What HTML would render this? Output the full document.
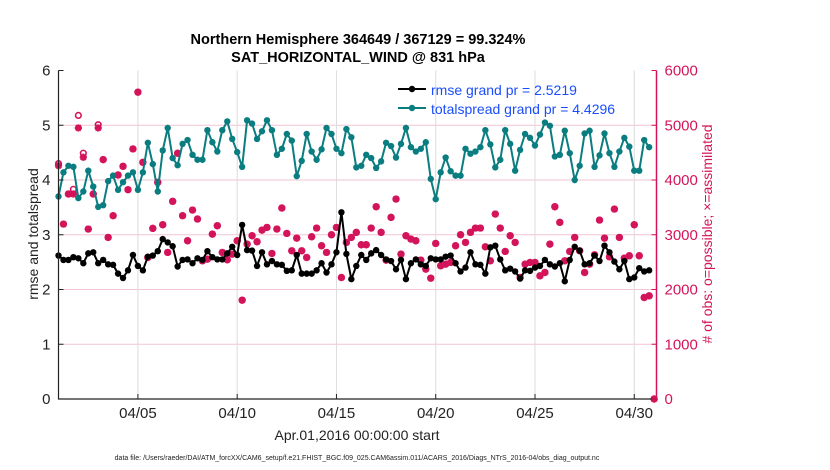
<!DOCTYPE html>
<html><head><meta charset="utf-8"><style>
body{margin:0;background:#fff;}
svg{font-family:"Liberation Sans",sans-serif;display:block}
</style></head><body>
<svg id="c" width="830" height="470" viewBox="0 0 830 470" xmlns="http://www.w3.org/2000/svg">
<text x="358" y="44" text-anchor="middle" font-size="14.5" font-weight="bold">Northern Hemisphere 364649 / 367129 = 99.324%</text>
<text x="358" y="62" text-anchor="middle" font-size="14.5" font-weight="bold">SAT_HORIZONTAL_WIND @ 831 hPa</text>
<g id="grid"></g>
<g id="series"></g>
<g id="axes"></g>
<g>
<line x1="398" y1="89" x2="426" y2="89" stroke="#000" stroke-width="2"/><circle cx="412" cy="89" r="3.2" fill="#000"/>
<text x="431" y="95" font-size="14" fill="#1a4dff">rmse grand pr = 2.5219</text>
<line x1="398" y1="108" x2="426" y2="108" stroke="#0a7d80" stroke-width="2"/><circle cx="412" cy="108" r="3.2" fill="#0a7d80"/>
<text x="431" y="114" font-size="14" fill="#1a4dff">totalspread grand pr = 4.4296</text>
</g>
<text transform="translate(38,234) rotate(-90)" text-anchor="middle" font-size="14" fill="#222">rmse and totalspread</text>
<text transform="translate(712,234) rotate(-90)" text-anchor="middle" font-size="14" fill="#d4145a"># of obs: o=possible; ×=assimilated</text>
<text x="357" y="440" text-anchor="middle" font-size="14" fill="#222">Apr.01,2016 00:00:00 start</text>
<text x="357" y="460" text-anchor="middle" font-size="7" fill="#222">data file: /Users/raeder/DAI/ATM_forcXX/CAM6_setup/f.e21.FHIST_BGC.f09_025.CAM6assim.011/ACARS_2016/Diags_NTrS_2016-04/obs_diag_output.nc</text>
</svg>
<script>
const rmse=[2.62,2.54,2.54,2.59,2.57,2.48,2.66,2.68,2.48,2.54,2.46,2.45,2.29,2.21,2.35,2.63,2.43,2.35,2.60,2.62,2.70,2.92,2.86,2.79,2.42,2.54,2.55,2.48,2.57,2.54,2.70,2.59,2.55,2.55,2.66,2.78,2.63,3.18,2.72,2.71,2.43,2.68,
2.46,2.52,2.46,2.45,2.34,2.35,2.63,2.29,2.29,2.29,2.35,2.48,2.31,2.46,2.68,3.41,2.65,2.19,2.43,2.63,2.54,2.66,2.72,2.63,2.55,2.52,2.37,2.54,2.19,2.48,2.55,2.46,2.43,2.57,2.55,2.55,2.60,2.62,2.48,
2.33,2.40,2.68,2.46,2.45,2.29,2.77,2.80,2.55,2.35,2.38,2.33,2.20,2.35,2.34,2.40,2.43,2.54,2.46,2.42,2.48,2.15,2.54,2.78,2.71,2.46,2.48,2.62,2.52,2.80,2.68,2.51,2.37,2.52,2.19,2.22,2.39,2.33,2.35];
const spread=[3.70,4.14,4.26,4.24,3.67,3.79,4.17,3.88,3.51,3.54,3.98,4.08,3.82,3.96,4.08,4.14,3.82,4.14,4.68,4.29,3.79,4.54,4.95,4.40,4.27,4.66,4.73,4.46,4.37,4.37,4.91,4.69,4.52,4.91,5.07,4.75,4.51,4.24,5.09,5.03,4.75,4.89,
5.09,4.91,4.46,4.57,4.84,4.72,4.07,4.35,4.84,4.52,4.37,4.56,4.95,4.84,4.57,4.49,4.93,4.78,4.23,4.26,4.46,4.40,4.22,4.34,4.68,4.62,4.41,4.66,4.95,4.60,4.52,4.57,4.69,4.02,3.65,4.14,4.41,4.16,4.08,
4.08,4.57,4.48,4.52,4.60,4.91,4.65,4.23,4.37,4.91,4.66,4.17,4.55,4.84,4.77,4.63,4.83,5.05,4.99,4.43,4.46,4.90,4.49,4.00,4.26,4.85,4.90,4.24,4.45,4.85,4.49,4.24,4.52,4.77,4.61,4.17,4.17,4.73,4.60];
const assimilated=[4262,3195,3744,3744,4951,4415,3104,3744,4951,4372,2951,3348,4091,4250,3823,4567,5604,4323,2585,3116,3957,3183,2677,3610,4488,3348,2890,3451,3287,2524,2555,3012,3165,2677,2543,2646,2890,1805,2829,2982,2872,3085,
3134,2658,3104,3488,3024,2707,2939,2707,2585,2963,3122,2799,2677,3000,3134,2219,2860,2951,3043,2817,2817,3122,3512,3043,2537,3317,3652,2646,2982,2921,2890,2537,2372,2207,2841,2433,2463,2494,2799,
3000,2860,3043,3122,3122,2780,2524,3378,3122,2695,2982,2860,2219,2463,2494,2494,2250,2311,2829,3512,3226,2524,2695,2951,2707,2311,2463,2634,3268,2939,2597,3469,2951,2573,2616,3183,2616,1854,1884,0];
const possible=assimilated.slice();
possible[0]=4300;possible[3]=3830;possible[4]=5180;possible[5]=4490;possible[8]=5010;
const xTicks=[4,9,14,19,24,29];
const xTickLabels=["04/05","04/10","04/15","04/20","04/25","04/30"];
const yTicks=[0,1,2,3,4,5,6];
const y2Ticks=[0,1000,2000,3000,4000,5000,6000];

const X0=58.5,X1=656.5,Y0=399,Y1=70.5,DMAX=30.12;
const xs=d=>X0+(d/DMAX)*(X1-X0);
const ys=v=>Y0-(v/6)*(Y0-Y1);
const y2s=v=>Y0-(v/6000)*(Y0-Y1);
const NS="http://www.w3.org/2000/svg";
function mk(tag,attrs,parent){const e=document.createElementNS(NS,tag);for(const k in attrs)e.setAttribute(k,attrs[k]);parent.appendChild(e);return e;}
const grid=document.getElementById('grid'),ser=document.getElementById('series'),ax=document.getElementById('axes');
yTicks.forEach(t=>{if(t>0&&t<6){const l=mk('line',{x1:X0,x2:X1,y1:ys(t),y2:ys(t),stroke:'#f2c6d6','stroke-width':1},grid);

}});
xTicks.forEach(t=>{const l=mk('line',{x1:xs(t),x2:xs(t),y1:Y1,y2:Y0,stroke:'#dcdcdc','stroke-width':1},grid);

});
// obs markers
function ast(cx,cy,g){const r=3.6,d=2.6;mk('path',{d:`M${cx-r},${cy}H${cx+r}M${cx},${cy-r}V${cy+r}M${cx-d},${cy-d}L${cx+d},${cy+d}M${cx-d},${cy+d}L${cx+d},${cy-d}`,stroke:'#d4145a','stroke-width':2.2,fill:'none'},g);}
possible.forEach((v,i)=>{const c=mk('circle',{cx:xs(i*0.25),cy:y2s(v),r:2.8,fill:'none',stroke:'#d4145a','stroke-width':1.6},ser);

});
assimilated.forEach((v,i)=>{const g=mk('g',{},ser);


ast(xs(i*0.25),y2s(v),g);});
function line(arr,color,name){const p=mk('polyline',{points:arr.map((v,i)=>xs(i*0.25)+','+ys(v)).join(' '),fill:'none',stroke:color,'stroke-width':2},ser);


arr.forEach((v,i)=>{const c=mk('circle',{cx:xs(i*0.25),cy:ys(v),r:3.2,fill:color},ser);

});}
line(rmse,'#000','rmse');
line(spread,'#0a7d80','totalspread');
// axes
const la=mk('path',{d:`M${X0},${Y1}V${Y0}H${X1}`,stroke:'#222','stroke-width':1.2,fill:'none'},ax);


const ra=mk('line',{x1:X1,x2:X1,y1:Y1,y2:Y0,stroke:'#d4145a','stroke-width':1.5},ax);


yTicks.forEach(t=>{mk('line',{x1:X0,x2:X0+5,y1:ys(t),y2:ys(t),stroke:'#222'},ax);
const tx=mk('text',{x:X0-8,y:ys(t)+5,'text-anchor':'end','font-size':15,fill:'#222'},ax);tx.textContent=t;

});
y2Ticks.forEach(t=>{mk('line',{x1:X1-5,x2:X1,y1:y2s(t),y2:y2s(t),stroke:'#d4145a'},ax);
const tx=mk('text',{x:X1+8,y:y2s(t)+5,'font-size':15,fill:'#d4145a'},ax);tx.textContent=t;

});
xTicks.forEach((t,i)=>{mk('line',{x1:xs(t),x2:xs(t),y1:Y0,y2:Y0-5,stroke:'#222'},ax);
const tx=mk('text',{x:xs(t),y:Y0+19,'text-anchor':'middle','font-size':15,fill:'#222'},ax);tx.textContent=xTickLabels[i];

});
</script>
</body></html>
